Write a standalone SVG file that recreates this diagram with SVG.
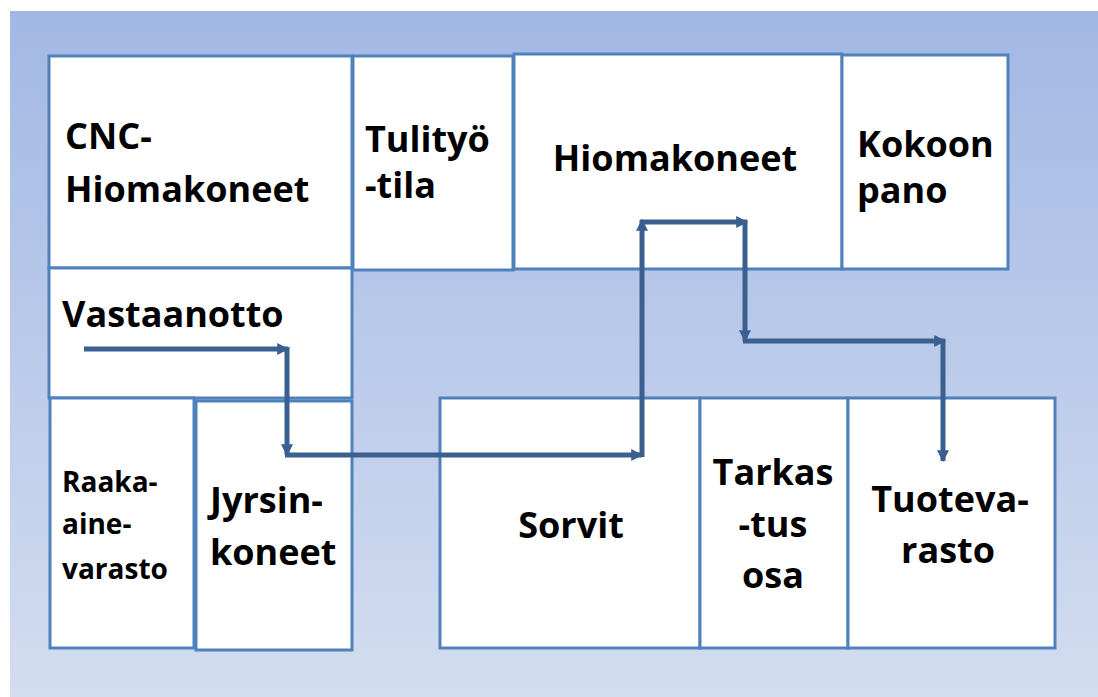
<svg xmlns="http://www.w3.org/2000/svg" width="1098" height="697" viewBox="0 0 1098 697">
  <defs>
    <linearGradient id="bg" x1="0" y1="0" x2="0" y2="1">
      <stop offset="0" stop-color="#A2B8E4"/>
      <stop offset="1" stop-color="#D3DDF0"/>
    </linearGradient>
    <marker id="head" viewBox="0 0 10 10" refX="9" refY="5" markerWidth="2.4" markerHeight="2.4" orient="auto" markerUnits="strokeWidth">
      <path d="M0,0 L10,5 L0,10 Z" fill="#3B5F8F"/>
    </marker>
    <style>
      .room { fill: #FFFFFF; stroke: #4F81BD; stroke-width: 3; }
      .lbl { font-family: "Open Sans", Lato, "Liberation Sans", sans-serif; font-weight: bold; font-size: 36px; fill: #000000; }
      .small { font-size: 28px; }
      .mid { text-anchor: middle; }
      .flow { fill: none; stroke: #3B5F8F; stroke-width: 5; marker-end: url(#head); }
    </style>
  </defs>

  <rect x="10" y="11" width="1088" height="686" fill="url(#bg)"/>

  <g id="cnc-hiomakoneet">
    <rect class="room" x="49" y="56" width="303" height="212"/>
    <text class="lbl" x="65" y="149">CNC-</text>
    <text class="lbl" x="65" y="202">Hiomakoneet</text>
  </g>

  <g id="tulityotila">
    <rect class="room" x="353" y="56" width="160" height="214"/>
    <text class="lbl" x="365" y="152">Tulityö</text>
    <text class="lbl" x="365" y="198">-tila</text>
  </g>

  <g id="hiomakoneet">
    <rect class="room" x="514" y="54" width="328" height="215"/>
    <text class="lbl mid" x="675" y="171">Hiomakoneet</text>
  </g>

  <g id="kokoonpano">
    <rect class="room" x="842" y="55" width="166" height="214"/>
    <text class="lbl" x="857" y="157">Kokoon</text>
    <text class="lbl" x="857" y="203">pano</text>
  </g>

  <g id="vastaanotto">
    <rect class="room" x="49" y="268" width="303" height="130"/>
    <text class="lbl" x="62" y="327">Vastaanotto</text>
  </g>

  <g id="raaka-ainevarasto">
    <rect class="room" x="50" y="398" width="144" height="250"/>
    <text class="lbl small" x="62" y="492">Raaka-</text>
    <text class="lbl small" x="62" y="534">aine-</text>
    <text class="lbl small" x="62" y="579">varasto</text>
  </g>

  <g id="jyrsinkoneet">
    <rect class="room" x="196" y="401" width="156" height="249"/>
    <text class="lbl" x="210" y="513">Jyrsin-</text>
    <text class="lbl" x="210" y="565">koneet</text>
  </g>

  <g id="sorvit">
    <rect class="room" x="440" y="398" width="260" height="250"/>
    <text class="lbl mid" x="571" y="538">Sorvit</text>
  </g>

  <g id="tarkastusosa">
    <rect class="room" x="700" y="398" width="148" height="250"/>
    <text class="lbl mid" x="773" y="485">Tarkas</text>
    <text class="lbl mid" x="773" y="537">-tus</text>
    <text class="lbl mid" x="773" y="588">osa</text>
  </g>

  <g id="tuotevarasto">
    <rect class="room" x="848" y="398" width="207" height="250"/>
    <text class="lbl mid" x="950" y="512">Tuoteva-</text>
    <text class="lbl mid" x="948" y="563">rasto</text>
  </g>

  <!-- material flow route -->
  <g id="connectors">
    <line class="flow" x1="84" y1="349" x2="288" y2="349"/>
    <line class="flow" x1="287" y1="347" x2="287" y2="455"/>
    <line class="flow" x1="285" y1="455" x2="642" y2="455"/>
    <line class="flow" x1="642" y1="457" x2="642" y2="220"/>
    <line class="flow" x1="640" y1="222" x2="747" y2="222"/>
    <line class="flow" x1="745" y1="220" x2="745" y2="341"/>
    <line class="flow" x1="743" y1="341" x2="945" y2="341"/>
    <line class="flow" x1="943" y1="339" x2="943" y2="461"/>
  </g>
</svg>
